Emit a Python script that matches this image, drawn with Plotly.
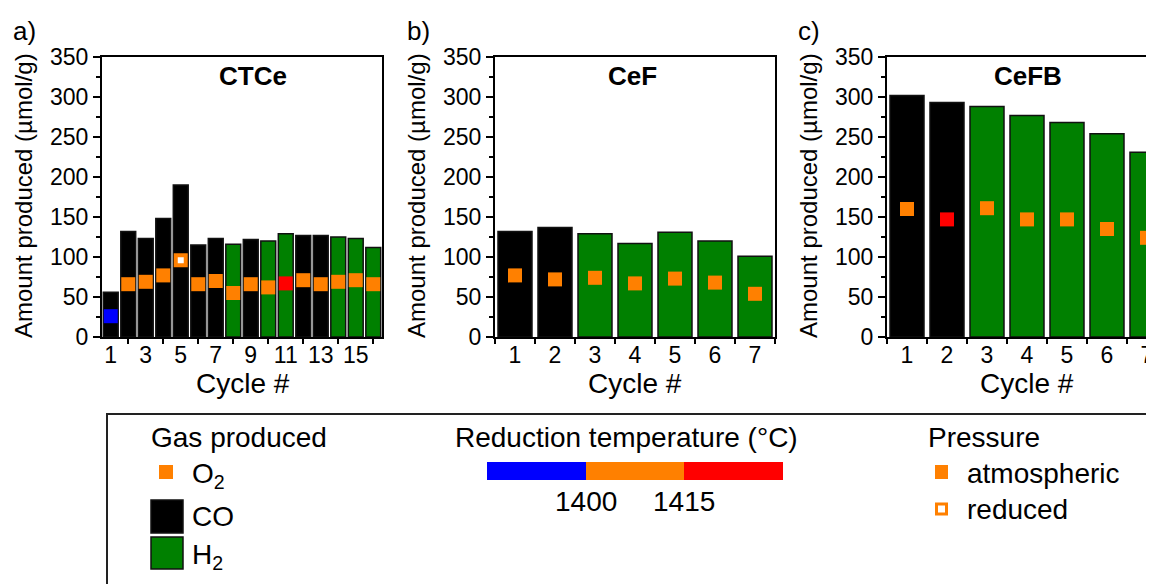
import plotly.graph_objects as go

# the page shows the figure 8 px in from the window's top-left corner,
# so the figure is 8 px smaller and every pixel position is shifted by OFF
WIN_W, WIN_H, OFF = 1154, 584, 8
W, H = WIN_W - OFF, WIN_H - OFF
FONT = "Liberation Sans, Arial, sans-serif"

# ---- data -------------------------------------------------------------
# panel a) CTCe
cycles_a = list(range(1, 17))
amount_a = [56, 132, 123, 148, 190, 115, 123, 116, 122, 120, 129, 127, 127, 125, 123, 112]
gas_a = ["CO", "CO", "CO", "CO", "CO", "CO", "CO", "H2",
         "CO", "H2", "H2", "CO", "CO", "H2", "H2", "H2"]
o2_a = [26, 66, 69, 77, 96, 66, 70, 55, 66, 62, 67, 71, 66, 69, 71, 66]
temp_a = ["<1400"] + ["1400-1415"] * 9 + [">1415"] + ["1400-1415"] * 5
pres_a = ["atmospheric"] * 4 + ["reduced"] + ["atmospheric"] * 11

# panel b) CeF
cycles_b = list(range(1, 8))
amount_b = [132, 137, 129, 117, 131, 120, 101]
gas_b = ["CO", "CO", "H2", "H2", "H2", "H2", "H2"]
o2_b = [77, 72, 74, 67, 73, 68, 54]
temp_b = ["1400-1415"] * 7
pres_b = ["atmospheric"] * 7

# panel c) CeFB
cycles_c = list(range(1, 8))
amount_c = [302, 293, 288, 277, 268, 254, 231]
gas_c = ["CO", "CO", "H2", "H2", "H2", "H2", "H2"]
o2_c = [160, 147, 161, 147, 147, 135, 124]
temp_c = ["1400-1415", ">1415"] + ["1400-1415"] * 5
pres_c = ["atmospheric"] * 7

GAS_COLORS = {"CO": "#000000", "H2": "#008000"}
TEMP_COLORS = {"<1400": "#0000FF", "1400-1415": "#FF8000", ">1415": "#FF0000"}


def fx(p):
    return (p - OFF) / W


def fy(p):
    return 1 - (p - OFF) / H


def o2_marker(temps, pres):
    fill, line, size, lw = [], [], [], []
    for t, p in zip(temps, pres):
        c = TEMP_COLORS[t]
        if p == "reduced":
            fill.append("white"); line.append(c); size.append(10); lw.append(4)
        else:
            fill.append(c); line.append(c); size.append(14); lw.append(0)
    # size array makes plotly treat it as a bubble chart -> force opacity
    return dict(symbol="square", color=fill, size=size, opacity=1,
                line=dict(color=line, width=lw))


fig = go.Figure()

panels = [
    ("", cycles_a, amount_a, gas_a, o2_a, temp_a, pres_a),
    ("2", cycles_b, amount_b, gas_b, o2_b, temp_b, pres_b),
    ("3", cycles_c, amount_c, gas_c, o2_c, temp_c, pres_c),
]
for k, cyc, amt, gas, o2, tmp, prs in panels:
    fig.add_trace(go.Bar(
        x=cyc, y=amt, width=0.85,
        marker=dict(color=[GAS_COLORS[g] for g in gas],
                    line=dict(color="#111111", width=1.5)),
        xaxis="x" + k, yaxis="y" + k, showlegend=False,
    ))
    fig.add_trace(go.Scatter(
        x=cyc, y=o2, mode="markers", marker=o2_marker(tmp, prs),
        xaxis="x" + k, yaxis="y" + k, showlegend=False,
    ))

ydom = [fy(337), fy(57)]


def yax(anchor, mirror=True):
    return dict(
        domain=ydom, anchor=anchor, range=[0, 350],
        tickvals=list(range(0, 351, 50)), ticks="outside", ticklen=7,
        tickwidth=2, tickcolor="black", showline=True, linewidth=2,
        linecolor="black", mirror=mirror, showgrid=False, zeroline=False,
        tickfont=dict(size=23, color="black"),
        minor=dict(ticks="outside", ticklen=4, tickwidth=2,
                   tickcolor="black", tick0=0, dtick=25, showgrid=False),
    )


def xax(domain, anchor, rng, tickvals, minorvals):
    return dict(
        domain=domain, anchor=anchor, range=rng, tickvals=tickvals,
        ticks="outside", ticklen=0, ticklabelstandoff=-4,
        ticklabeloverflow="allow",
        showline=True, linewidth=2,
        linecolor="black", mirror=True, showgrid=False, zeroline=False,
        tickfont=dict(size=23, color="black"),
        minor=dict(ticks="outside", ticklen=5, tickwidth=2,
                   tickcolor="black", tickvals=minorvals, showgrid=False),
    )


fig.update_layout(
    width=W, height=H,
    margin=dict(l=0, r=0, t=0, b=0, pad=0, autoexpand=False),
    paper_bgcolor="white", plot_bgcolor="white",
    font=dict(family=FONT, color="black"),
    xaxis=xax([fx(102), fx(382)], "y", [0.5, 16.5],
              list(range(1, 17, 2)), list(range(2, 17, 2))),
    xaxis2=xax([fx(495), fx(775)], "y2", [0.5, 7.5],
               cycles_b, [i + 0.5 for i in range(0, 8)]),
    xaxis3=xax([fx(887), 1.0], "y3", [0.5, 0.5 + 267 / 40],
               cycles_c, [i + 0.5 for i in range(0, 8)]),
    yaxis=yax("x"),
    yaxis2=yax("x2"),
    yaxis3=yax("x3", mirror=False),
)

ann = []
# panel letters, titles, axis titles
for lab, x0, title, tx, axl, cx in [("a)", 11, "CTCe", 253, 102, 243),
                                    ("b)", 405, "CeF", 632, 495, 635),
                                    ("c)", 796, "CeFB", 1028, 887, 1027)]:
    ann.append(dict(text=lab, x=fx(x0), y=fy(31), xanchor="left", yanchor="middle",
                    font=dict(size=26)))
    ann.append(dict(text="<b>%s</b>" % title, x=fx(tx), y=fy(76), xanchor="center",
                    yanchor="middle", font=dict(size=26)))
    ann.append(dict(text="Amount produced (µmol/g)", textangle=-90, x=fx(axl - 78),
                    y=fy(196), xanchor="center", yanchor="middle", font=dict(size=24)))
    ann.append(dict(text="Cycle #", x=fx(cx), y=fy(383), xanchor="center",
                    yanchor="middle", font=dict(size=28)))

# legend box content
LF = dict(size=28)
ann += [
    dict(text="Gas produced", x=fx(149), y=fy(437), xanchor="left", yanchor="middle", font=LF),
    dict(text="O<sub>2</sub>", x=fx(190), y=fy(475), xanchor="left", yanchor="middle", font=LF),
    dict(text="CO", x=fx(190), y=fy(516), xanchor="left", yanchor="middle", font=LF),
    dict(text="H<sub>2</sub>", x=fx(190), y=fy(556), xanchor="left", yanchor="middle", font=LF),
    dict(text="Reduction temperature (°C)", x=fx(453), y=fy(437), xanchor="left",
         yanchor="middle", font=LF),
    dict(text="1400", x=fx(586), y=fy(501), xanchor="center", yanchor="middle", font=LF),
    dict(text="1415", x=fx(684), y=fy(501), xanchor="center", yanchor="middle", font=LF),
    dict(text="Pressure", x=fx(926), y=fy(437), xanchor="left", yanchor="middle", font=LF),
    dict(text="atmospheric", x=fx(965), y=fy(473), xanchor="left", yanchor="middle", font=LF),
    dict(text="reduced", x=fx(965), y=fy(509), xanchor="left", yanchor="middle", font=LF),
]
for a in ann:
    a.update(xref="paper", yref="paper", showarrow=False)
fig.update_layout(annotations=ann)


def rect(x0, y0, x1, y1, fill, line="rgba(0,0,0,0)", lw=0):
    return dict(type="rect", xref="paper", yref="paper",
                x0=fx(x0), x1=fx(x1), y0=fy(y1), y1=fy(y0),
                fillcolor=fill, line=dict(color=line, width=lw))


shapes = [
    # legend frame (runs off the right and bottom edge)
    dict(type="rect", xref="paper", yref="paper", x0=fx(107), x1=fx(1170),
         y0=fy(600), y1=fy(414), line=dict(color="#222222", width=2)),
    # gas produced
    rect(159, 465, 173, 479, TEMP_COLORS["1400-1415"]),
    rect(151, 500, 183, 533, "#000000", "#111111", 1.5),
    rect(151, 537, 183, 569, GAS_COLORS["H2"], "#111111", 1.5),
    # reduction temperature bar
    rect(487, 462, 586, 480, TEMP_COLORS["<1400"]),
    rect(586, 462, 684, 480, TEMP_COLORS["1400-1415"]),
    rect(684, 462, 783, 480, TEMP_COLORS[">1415"]),
    # pressure
    rect(935, 465, 948, 479, TEMP_COLORS["1400-1415"]),
    rect(936.5, 504, 946.5, 514, "white", TEMP_COLORS["1400-1415"], 3),
]
fig.update_layout(shapes=shapes)

fig.write_html("out.html")
